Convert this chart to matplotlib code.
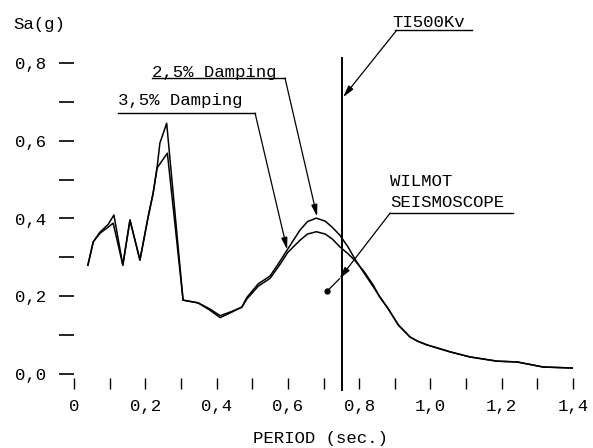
import numpy as np
import matplotlib
matplotlib.use("Agg")
import matplotlib.pyplot as plt

plt.rcParams['font.family'] = ['Liberation Mono', 'DejaVu Sans Mono']

# Espectro de respuesta, 2.5% de amortiguamiento
period_25 = [0.039, 0.054, 0.073, 0.096, 0.112, 0.137, 0.157, 0.185, 0.208, 0.222,
             0.233, 0.241, 0.260, 0.306, 0.348, 0.380, 0.410, 0.440, 0.471, 0.485,
             0.517, 0.550, 0.578, 0.600, 0.634, 0.655, 0.680, 0.705, 0.725, 0.746,
             0.768, 0.788, 0.815, 0.840, 0.858, 0.880, 0.910, 0.943, 0.965, 0.990,
             1.055, 1.110, 1.187, 1.243, 1.316, 1.410]
sa_25 = [0.280, 0.340, 0.365, 0.385, 0.409, 0.280, 0.396, 0.293, 0.404, 0.465,
         0.530, 0.594, 0.645, 0.190, 0.183, 0.165, 0.145, 0.158, 0.172, 0.197,
         0.232, 0.252, 0.290, 0.322, 0.370, 0.392, 0.401, 0.393, 0.377, 0.357,
         0.328, 0.296, 0.258, 0.224, 0.198, 0.170, 0.126, 0.095, 0.084, 0.075,
         0.057, 0.044, 0.033, 0.031, 0.018, 0.015]

# Espectro de respuesta, 3.5% de amortiguamiento
period_35 = [0.039, 0.054, 0.073, 0.096, 0.110, 0.137, 0.157, 0.185, 0.208, 0.222,
             0.233, 0.262, 0.306, 0.348, 0.380, 0.410, 0.440, 0.471, 0.485, 0.517,
             0.550, 0.578, 0.600, 0.634, 0.655, 0.680, 0.705, 0.725, 0.746, 0.768,
             0.788, 0.815, 0.840, 0.858, 0.880, 0.910, 0.943, 0.965, 0.990, 1.055,
             1.110, 1.187, 1.243, 1.316, 1.410]
sa_35 = [0.280, 0.340, 0.362, 0.378, 0.388, 0.280, 0.396, 0.293, 0.404, 0.465,
         0.530, 0.568, 0.190, 0.183, 0.168, 0.150, 0.160, 0.172, 0.193, 0.226,
         0.246, 0.282, 0.313, 0.344, 0.360, 0.366, 0.360, 0.347, 0.327, 0.310,
         0.292, 0.262, 0.228, 0.198, 0.170, 0.126, 0.095, 0.084, 0.075, 0.057,
         0.044, 0.033, 0.031, 0.018, 0.015]

t_structure = 0.752          # TI500Kv
seismoscope = (0.71, 0.213)  # Wilmot seismoscope

x_major = [0.0, 0.2, 0.4, 0.6, 0.8, 1.0, 1.2, 1.4]
x_labels = ["0", "0,2", "0,4", "0,6", "0,8", "1,0", "1,2", "1,4"]
y_major = [0.0, 0.2, 0.4, 0.6, 0.8]
y_labels = ["0,0", "0,2", "0,4", "0,6", "0,8"]

W, H = 593, 448
fig = plt.figure(figsize=(W / 100, H / 100), dpi=100)
ax = fig.add_axes([74 / W, 74 / H, (573 - 74) / W, 311 / H])
ax.set_xlim(0, 1.4)
ax.set_ylim(0, 0.8)

ax.plot(period_25, sa_25, color='black', lw=1.1)
ax.plot(period_35, sa_35, color='black', lw=1.1)

ax.plot([t_structure, t_structure], [-0.041, 0.812], color='black', lw=1.4, clip_on=False)
ax.plot(*seismoscope, 'o', color='black', ms=3.5, clip_on=False)

for s in ax.spines.values():
    s.set_visible(False)
ax.spines['bottom'].set_position(('outward', 3))

ax.set_xticks(x_major)
ax.set_xticklabels(x_labels)
ax.set_xticks(np.arange(0.1, 1.4, 0.2), minor=True)
ax.set_yticks(y_major)
ax.set_yticklabels(y_labels)
ax.set_yticks(np.arange(0.1, 0.8, 0.2), minor=True)
ax.tick_params(axis='x', which='both', direction='out', length=8, width=1.0, pad=7, labelsize=12.5)
ax.tick_params(axis='y', which='both', direction='out', length=11, width=1.2, pad=9, labelsize=12.5)

fig.text(13 / W, 1 - 24 / H, "Sa(g)", fontsize=12.5, va='center', ha='left')
fig.text(320 / W, 10 / H, "PERIOD (sec.)", fontsize=12.5, va='center', ha='center')

arrow = dict(arrowstyle='-|>,head_length=0.7,head_width=0.18', color='black', lw=0.9,
             shrinkA=0, shrinkB=0)


def label(text_xy, text, underline, tip, start=None):
    ax.text(text_xy[0], text_xy[1], text, fontsize=12.5, ha='left', va='center', clip_on=False)
    ax.plot(underline[0], underline[1], color='black', lw=1.0, clip_on=False)
    if start is None:
        start = (underline[0][-1], underline[1][-1])
    ax.annotate("", xy=tip, xytext=start, arrowprops=arrow, annotation_clip=False)


label((0.219, 0.776), "2,5% Damping", ([0.219, 0.592], [0.761, 0.761]), (0.682, 0.405))
label((0.123, 0.703), "3,5% Damping", ([0.123, 0.508], [0.671, 0.671]), (0.598, 0.320))
label((0.892, 0.905), "TI500Kv", ([0.900, 1.117], [0.884, 0.884]), (0.755, 0.712),
      start=(0.905, 0.884))
ax.text(0.887, 0.494, "WILMOT", fontsize=12.5, ha='left', va='center', clip_on=False)
label((0.887, 0.440), "SEISMOSCOPE", ([0.887, 1.232], [0.414, 0.414]), (0.745, 0.245),
      start=(0.887, 0.414))
ax.plot([0.745, seismoscope[0]], [0.245, seismoscope[1]], color='black', lw=0.9, clip_on=False)

fig.savefig("out.png", dpi=100)
